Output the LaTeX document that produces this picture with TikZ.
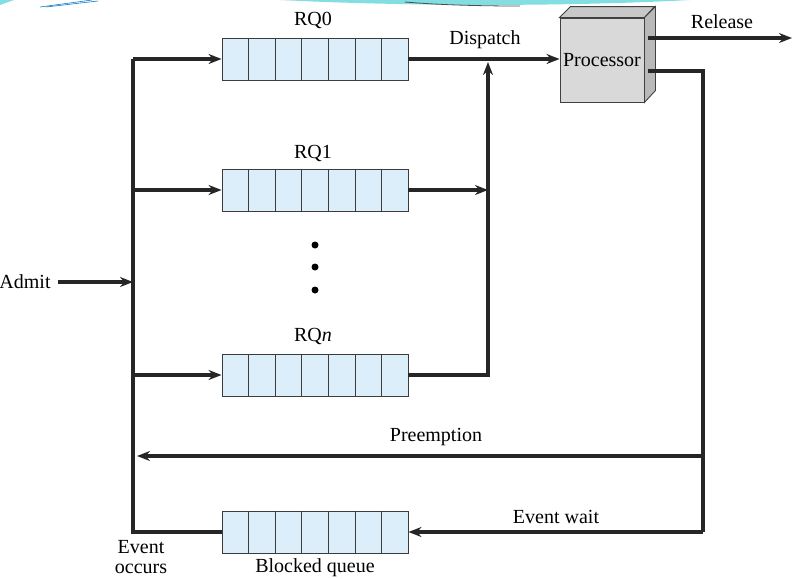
\documentclass[tikz,border=0pt]{standalone}
\usepackage{fontspec}
\setmainfont{Liberation Serif}
\usetikzlibrary{arrows.meta,calc}
\definecolor{qblue}{RGB}{220,238,250}
\definecolor{qline}{RGB}{60,60,60}
\definecolor{pfront}{RGB}{217,217,217}
\definecolor{ptop}{RGB}{200,200,200}
\definecolor{pside}{RGB}{185,185,185}
\definecolor{swoosh}{RGB}{130,222,225}
\begin{document}
\begin{tikzpicture}[x=1pt, y=-1pt, font=\fontsize{20}{22}\selectfont,
  queue/.style={draw=qline, line width=0.9pt, fill=qblue, minimum width=186pt, minimum height=42pt, inner sep=0pt},
  wire/.style={line width=3.2pt, draw=black!85},
  flow/.style={wire, -{Stealth[length=13pt, width=10pt]}}]
\useasboundingbox (0,0) rectangle (807,579);
% slide decoration along the top
\fill[swoosh] (280,0) .. controls (420,7) and (580,6) .. (690,0) -- cycle;
\draw[black!70, line width=0.8pt] (405,2) .. controls (440,5) and (480,6) .. (520,6);
\fill[swoosh] (0,0) -- (14,0) -- (0,5) -- cycle;
\draw[cyan!60!blue, line width=0.6pt] (40,7) -- (92,0);
\draw[cyan!60!blue, line width=0.6pt] (46,7) -- (98,1);
% queues
\node[queue] (RQ0) at (315,59) {};
\node[queue] (RQ1) at (315,190) {};
\node[queue] (RQn) at (315,375) {};
\node[queue] (BQ) at (315,532) {};
\foreach \q in {RQ0,RQ1,RQn,BQ}
  \foreach \i in {1,...,6}
    \draw[qline, line width=0.9pt] ($(\q.north west)!\i/7!(\q.north east)$) -- ($(\q.south west)!\i/7!(\q.south east)$);
\node (L_RQ0) at (313,20) {RQ0};
\node (L_RQ1) at (313,153) {RQ1};
\node (L_RQn) at (313,336) {RQ\textit{n}};
\node (L_BQ) at (315,568) {Blocked queue};
\foreach \y [count=\k] in {245,267,290}
  \fill (315,\y) circle (3.5pt);
% processor
\node[draw=black!75, line width=0.9pt, fill=pfront, minimum width=84pt, minimum height=84pt, inner sep=0pt] (proc) at (602,60) {};
\filldraw[fill=ptop, draw=black!75, line width=0.9pt] (proc.north west) -- ++(11,-11) -- ++(84,0) -- (proc.north east) -- cycle;
\filldraw[fill=pside, draw=black!75, line width=0.9pt] (proc.north east) -- ++(11,-11) -- ++(0,84) -- (proc.south east) -- cycle;
\node[inner sep=0pt] (L_proc) at (602,60) {Processor};
% left bus
\coordinate (btop) at (133,59);
\coordinate (b1) at (133,190);
\coordinate (badm) at (133,282);
\coordinate (bn) at (133,375);
\coordinate (bpre) at (137,456);
\coordinate (bbot) at (133,532);
\draw[wire] (BQ.west) -- (bbot) -- (btop);
\draw[flow] (btop) -- (RQ0.west);
\draw[flow] (b1) -- (RQ1.west);
\draw[flow] (bn) -- (RQn.west);
\node (admit) at (25,282) {Admit};
\draw[flow] (58,282) -- (badm);
% dispatch
\coordinate (dsp) at (488,62);
\coordinate (d1) at (488,190);
\draw[flow] (RQ0.east) -- (RQ0.east -| proc.west);
\draw[flow] (RQ1.east) -- (d1);
\draw[flow] (RQn.east) -| (dsp);
\node (L_disp) at (485,40) {Dispatch};
% processor outputs
\coordinate (rel) at (792,38);
\coordinate (rpre) at (703,456);
\coordinate (rwait) at (703,532);
\draw[flow] ([xshift=4pt,yshift=22pt]proc.east) -- (rel);
\node (L_rel) at (722,22) {Release};
\draw[wire] ([xshift=4pt,yshift=-11pt]proc.east) -| (rwait);
\draw[flow] (rpre) -- (bpre);
\node (L_pre) at (436,437) {Preemption};
\draw[flow] (rwait) -- (BQ.east);
\node (L_wait) at (556,517) {Event wait};
\node[align=center, inner sep=0pt, font=\fontsize{20}{20}\selectfont] (L_occ) at (141,557) {Event\\occurs};
\end{tikzpicture}
\end{document}
